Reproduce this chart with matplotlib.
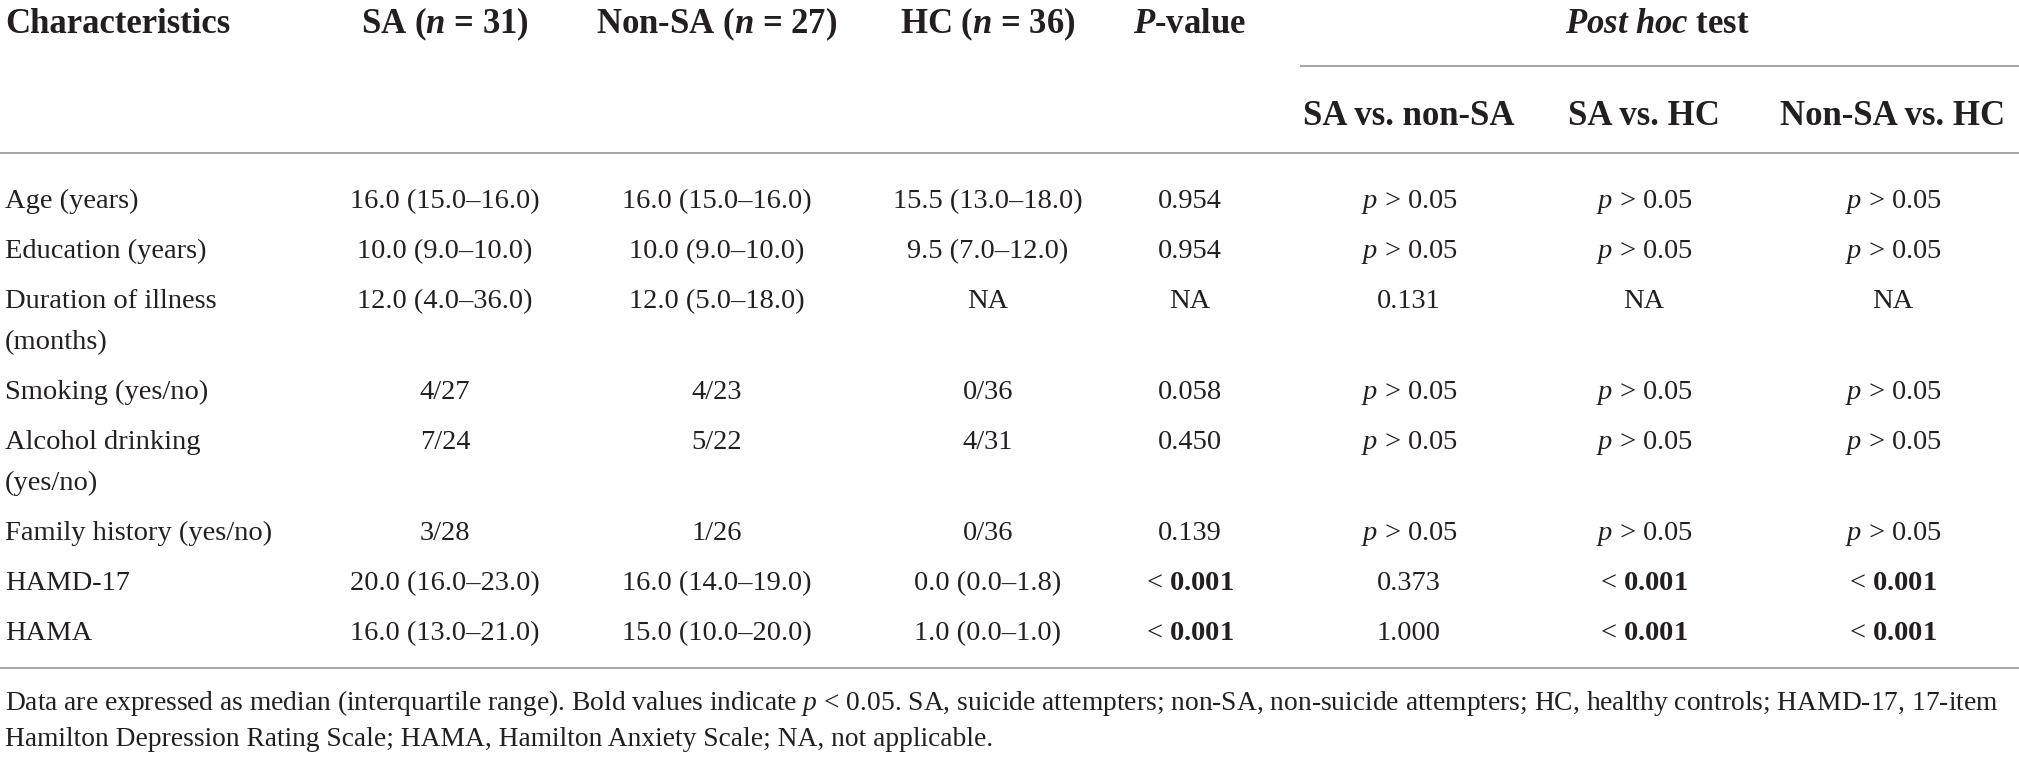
import matplotlib.pyplot as plt

plt.rcParams['font.family'] = 'Liberation Serif'
plt.rcParams['mathtext.fontset'] = 'custom'
plt.rcParams['mathtext.rm'] = 'Liberation Serif'
plt.rcParams['mathtext.it'] = 'Liberation Serif:italic'
plt.rcParams['mathtext.bf'] = 'Liberation Serif:bold'
plt.rcParams['mathtext.bfit'] = 'Liberation Serif:italic:bold'

# table content
groups = ["SA", "Non-SA", "HC"]
group_n = [31, 27, 36]
posthoc_cols = ["SA vs. non-SA", "SA vs. HC", "Non-SA vs. HC"]

characteristics = [
    "Age (years)", "Education (years)", "Duration of illness\n(months)",
    "Smoking (yes/no)", "Alcohol drinking\n(yes/no)", "Family history (yes/no)",
    "HAMD-17", "HAMA",
]
sa = ["16.0 (15.0–16.0)", "10.0 (9.0–10.0)", "12.0 (4.0–36.0)", "4/27", "7/24", "3/28",
      "20.0 (16.0–23.0)", "16.0 (13.0–21.0)"]
non_sa = ["16.0 (15.0–16.0)", "10.0 (9.0–10.0)", "12.0 (5.0–18.0)", "4/23", "5/22", "1/26",
          "16.0 (14.0–19.0)", "15.0 (10.0–20.0)"]
hc = ["15.5 (13.0–18.0)", "9.5 (7.0–12.0)", "NA", "0/36", "4/31", "0/36",
      "0.0 (0.0–1.8)", "1.0 (0.0–1.0)"]
p_value = ["0.954", "0.954", "NA", "0.058", "0.450", "0.139", "< 0.001", "< 0.001"]
sa_vs_nonsa = ["p > 0.05", "p > 0.05", "0.131", "p > 0.05", "p > 0.05", "p > 0.05",
               "0.373", "1.000"]
sa_vs_hc = ["p > 0.05", "p > 0.05", "NA", "p > 0.05", "p > 0.05", "p > 0.05",
            "< 0.001", "< 0.001"]
nonsa_vs_hc = ["p > 0.05", "p > 0.05", "NA", "p > 0.05", "p > 0.05", "p > 0.05",
               "< 0.001", "< 0.001"]

footnote = [
    "Data are expressed as median (interquartile range). Bold values indicate $p$ < 0.05. "
    "SA, suicide attempters; non-SA, non-suicide attempters; HC, healthy controls; HAMD-17, 17-item",
    "Hamilton Depression Rating Scale; HAMA, Hamilton Anxiety Scale; NA, not applicable.",
]

TEXT = '#231f20'
RULE = '#9e9e9e'


def fmt(v):
    # italic p, bold significant values
    if v.startswith("p > "):
        return "$p$ > " + v[4:]
    if v.startswith("< "):
        return "< $\\mathbf{" + v[2:] + "}$"
    return v


fig = plt.figure(figsize=(20.19, 7.58), dpi=100)
ax = fig.add_axes([0, 0, 1, 1])
ax.set_xlim(0, 2019)
ax.set_ylim(758, 0)
ax.axis('off')

col_x = [445, 717, 988, 1190, 1409, 1644, 1893]
head_size = 25
body_size = 20.5
left = 5

# header
ax.text(left, 33, "Characteristics", fontsize=head_size, fontweight='bold', color=TEXT,
        ha='left', va='baseline')
for x, g, n in zip(col_x, groups, group_n):
    ax.text(x, 33, f"{g} ($\\mathbfit{{n}}$ = {n})", fontsize=head_size, fontweight='bold',
            color=TEXT, ha='center', va='baseline')
ax.text(col_x[3], 33, "$\\mathbfit{P}$-value", fontsize=head_size, fontweight='bold',
        color=TEXT, ha='center', va='baseline')
ax.text((col_x[4] + col_x[6]) / 2 + 6, 33, "$\\mathbfit{Post\\ hoc}$ test", fontsize=head_size,
        fontweight='bold', color=TEXT, ha='center', va='baseline')
ax.plot([1300, 2019], [66, 66], color=RULE, lw=1.3, solid_capstyle='butt')
for x, name in zip(col_x[4:], posthoc_cols):
    ax.text(x, 125, name, fontsize=head_size, fontweight='bold', color=TEXT,
            ha='center', va='baseline')
ax.plot([0, 2019], [153, 153], color=RULE, lw=1.3, solid_capstyle='butt')

# body
columns = [sa, non_sa, hc, p_value, sa_vs_nonsa, sa_vs_hc, nonsa_vs_hc]
y = 208
for i, label in enumerate(characteristics):
    lines = label.split("\n")
    for k, line in enumerate(lines):
        ax.text(left, y + k * 41, line, fontsize=body_size, color=TEXT, ha='left', va='baseline')
    for x, col in zip(col_x, columns):
        ax.text(x, y, fmt(col[i]), fontsize=body_size, color=TEXT, ha='center', va='baseline')
    y += 50 + (len(lines) - 1) * 41

ax.plot([0, 2019], [668, 668], color=RULE, lw=1.3, solid_capstyle='butt')

for k, line in enumerate(footnote):
    ax.text(left, 710 + k * 36, line, fontsize=19.8, color=TEXT, ha='left', va='baseline')

fig.savefig('out.png', dpi=100, facecolor='white')
